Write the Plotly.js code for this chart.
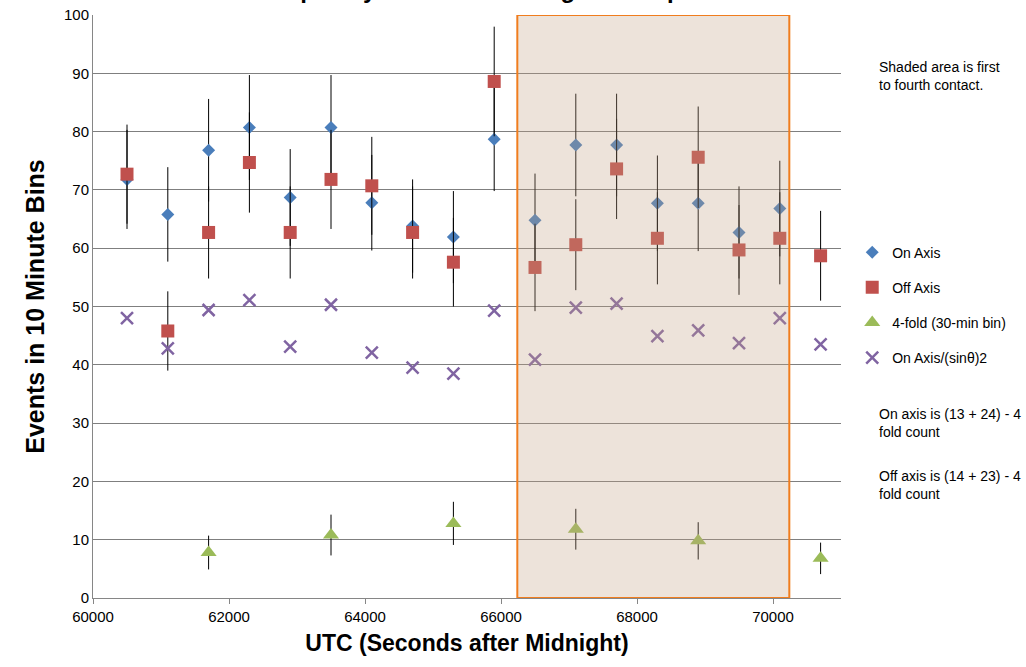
<!DOCTYPE html>
<html>
<head>
<meta charset="utf-8">
<script src="https://cdn.plot.ly/plotly-3.0.1.min.js"></script>
<style>html,body{margin:0;padding:0;background:#fff;}#chart{width:1026px;height:667px;}</style>
</head>
<body>
<div id="chart"></div>
<script>
var utc = [60500, 61100, 61700, 62300, 62900, 63500, 64100, 64700, 65300, 65900, 66500, 67100, 67700, 68300, 68900, 69500, 70100, 70700];
var onAxis = [71.8, 65.8, 76.8, 80.7, 68.7, 80.7, 67.8, 63.8, 61.9, 78.7, 64.8, 77.7, 77.7, 67.7, 67.7, 62.7, 66.8, null];
var onAxisErr = [8.5, 8.1, 8.8, 9.0, 8.3, 9.0, 8.2, 8.0, 7.9, 8.9, 8.0, 8.8, 8.8, 8.2, 8.2, 7.9, 8.2, 0];
var offAxis = [72.7, 45.8, 62.7, 74.7, 62.7, 71.8, 70.7, 62.7, 57.6, 88.6, 56.7, 60.6, 73.6, 61.7, 75.6, 59.7, 61.7, 58.7];
var offAxisErr = [8.5, 6.8, 7.9, 8.6, 7.9, 8.5, 8.4, 7.9, 7.6, 9.4, 7.5, 7.8, 8.6, 7.9, 8.7, 7.7, 7.9, 7.7];
var fourFoldUtc = [61700, 63500, 65300, 67100, 68900, 70700];
var fourFold = [7.8, 10.8, 12.8, 11.8, 9.8, 6.8];
var fourFoldErr = [2.9, 3.5, 3.7, 3.5, 3.2, 2.7];
var onAxisSin = [48.0, 42.8, 49.4, 51.1, 43.1, 50.3, 42.1, 39.5, 38.5, 49.3, 40.9, 49.8, 50.5, 44.9, 45.9, 43.7, 48.0, 43.5];
var shadeStart = 66240, shadeEnd = 70240;
var xTicks = [60000, 62000, 64000, 66000, 68000, 70000];
var yTicks = [0, 10, 20, 30, 40, 50, 60, 70, 80, 90, 100];
var chartTitle = 'Frequency of Events During the Eclipse';

var FONT = 'Liberation Sans, Arial, sans-serif';
var errStyle = function(arr){ return {type:'data', array:arr, symmetric:true, color:'#000', thickness:1, width:0, visible:true}; };

var traces = [
  {x: utc, y: onAxis, name: 'On Axis', type:'scatter', mode:'markers', legendgroup:'a',
   marker:{symbol:'diamond', size:10, color:'#4a7ebb'}, error_y: errStyle(onAxisErr)},
  {x: utc, y: offAxis, name: 'Off Axis', type:'scatter', mode:'markers', legendgroup:'b',
   marker:{symbol:'square', size:13, color:'#c0504d'}, error_y: errStyle(offAxisErr)},
  {x: fourFoldUtc, y: fourFold, name: '4-fold (30-min bin)', type:'scatter', mode:'markers', legendgroup:'c',
   marker:{symbol:'triangle-up', size:14, color:'#9bbb59'}, error_y: errStyle(fourFoldErr)},
  {x: utc, y: onAxisSin, name: 'On Axis/(sinθ)2', type:'scatter', mode:'markers', legendgroup:'d',
   marker:{symbol:'x-thin-open', size:12, color:'#8064a2', line:{color:'#8064a2', width:2.5}}}
];

var layout = {
  width:1026, height:667,
  margin:{l:93, r:185, t:15, b:69, pad:0},
  paper_bgcolor:'#fff', plot_bgcolor:'#fff',
  font:{family:FONT, color:'#000', size:14},
  xaxis:{range:[60000, 71000], tickvals:xTicks, ticktext:xTicks.map(String), showgrid:false, zeroline:false,
         showline:true, linecolor:'#868686', linewidth:1, ticks:'outside', ticklen:5, tickcolor:'#868686',
         tickfont:{size:15, family:FONT},
         title:{text:'<b>UTC (Seconds after Midnight)</b>', font:{size:23, family:FONT}, standoff:10}},
  yaxis:{range:[0, 100], tickvals:yTicks, showgrid:true, gridcolor:'#7f7f7f', gridwidth:1, zeroline:false,
         showline:true, linecolor:'#868686', linewidth:1, ticks:'', tickfont:{size:15, family:FONT},
         title:{text:'<b>Events in 10 Minute Bins</b>', font:{size:25, family:FONT}, standoff:12}},
  showlegend:true,
  legend:{x:1.015, xanchor:'left', y:0.62, yanchor:'top', font:{size:14, family:FONT}, traceorder:'grouped',
          tracegroupgap:14, bgcolor:'rgba(0,0,0,0)', itemwidth:30},
  shapes:[
    {type:'rect', xref:'x', yref:'y', x0:shadeStart, x1:shadeEnd, y0:0, y1:100, layer:'above',
     fillcolor:'#c4a283', opacity:0.3, line:{width:0}},
    {type:'rect', xref:'x', yref:'y', x0:shadeStart, x1:shadeEnd, y0:0, y1:100, layer:'above',
     fillcolor:'rgba(0,0,0,0)', line:{color:'#f07d1e', width:2}}
  ],
  annotations:[
    {text:'<b>' + chartTitle + '</b>', xref:'paper', yref:'paper', x:0.52, y:1, xanchor:'center', yanchor:'bottom', yshift:10, showarrow:false, font:{size:24, family:FONT, color:'#000'}},
    {text:'Shaded area is first<br>to fourth contact.', xref:'paper', yref:'paper', x:1.048, y:0.928, xanchor:'left', yanchor:'top', align:'left', showarrow:false, font:{size:14, family:FONT}},
    {text:'On axis is (13 + 24) - 4<br>fold count', xref:'paper', yref:'paper', x:1.048, y:0.332, xanchor:'left', yanchor:'top', align:'left', showarrow:false, font:{size:14, family:FONT}},
    {text:'Off axis is (14 + 23) - 4<br>fold count', xref:'paper', yref:'paper', x:1.048, y:0.226, xanchor:'left', yanchor:'top', align:'left', showarrow:false, font:{size:14, family:FONT}}
  ]
};

Plotly.newPlot('chart', traces, layout, {displayModeBar:false, staticPlot:true});
</script>
</body>
</html>
